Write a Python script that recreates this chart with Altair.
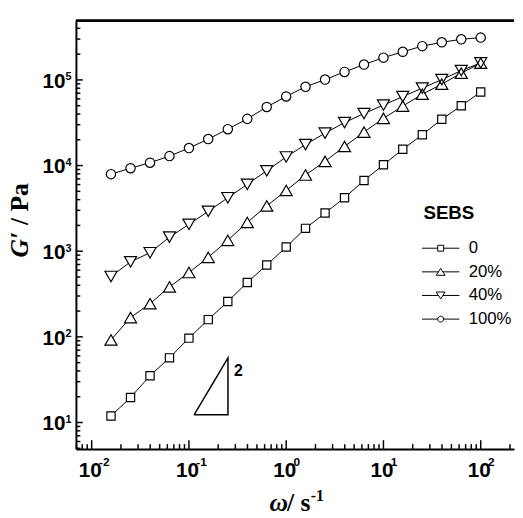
import altair as alt
import pandas as pd

# ---------------- data ----------------
omega = [0.0158, 0.0251, 0.0398, 0.0631, 0.1, 0.158, 0.251, 0.398, 0.631, 1.0,
         1.58, 2.51, 3.98, 6.31, 10.0, 15.8, 25.1, 39.8, 63.1, 100.0]
g_0 = [11.9, 19.6, 35.2, 56.9, 96.6, 159, 259, 432, 690, 1120,
       1850, 2790, 4210, 6690, 10200, 15500, 22900, 34700, 49900, 72200]
g_20 = [92, 168, 244, 383, 564, 848, 1340, 2170, 3380, 5120,
        7760, 11200, 16700, 24600, 35600, 49500, 68100, 89300, 120000, 157000]
g_40 = [507, 753, 960, 1460, 2060, 2920, 4210, 6050, 8690, 12600,
        17600, 23900, 31800, 40500, 50900, 63800, 80300, 100800, 128600, 158000]
g_100 = [7940, 9310, 10800, 12900, 16000, 20400, 26600, 35100, 48300, 64100,
         83100, 101000, 124000, 151000, 182000, 213000, 248000, 275000, 298000, 312000]
series_names = ["0", "20%", "40%", "100%"]
series_values = [g_0, g_20, g_40, g_100]
legend_title = ["SEBS"]

slope_x = [0.113, 0.252, 0.252, 0.113]
slope_y = [12.3, 12.3, 56.9, 12.3]
slope_text = ["2"]
slope_text_x = [0.29]
slope_text_y = [40]

x_domain = [0.00689, 220]
y_domain = [4.9, 490000]
x_major = [0.01, 0.1, 1, 10, 100]
y_major = [10, 100, 1000, 10000, 100000]
mults = [2, 3, 4, 5, 6, 7, 8, 9]
x_minor = [round(m * 10.0 ** e, 6) for e in range(-3, 3) for m in mults
           if x_domain[0] <= m * 10.0 ** e <= x_domain[1]]
y_minor = [round(m * 10.0 ** e, 6) for e in range(0, 6) for m in mults
           if y_domain[0] <= m * 10.0 ** e <= y_domain[1]]

rows = []
for name, vals in zip(series_names, series_values):
    for i, (w, g) in enumerate(zip(omega, vals)):
        rows.append({"series": name, "omega": w, "G": g, "i": i})
df = pd.DataFrame(rows)
slope_df = pd.DataFrame({"x": slope_x, "y": slope_y, "o": list(range(len(slope_x)))})
text_df = pd.DataFrame({"x": slope_text_x, "y": slope_text_y, "t": slope_text})
title_df = pd.DataFrame({"t": legend_title})
tick_df = pd.DataFrame(
    [{"xv": v, "kind": "xmaj"} for v in x_major] + [{"xv": v, "kind": "xmin"} for v in x_minor]
    + [{"yv": v, "kind": "ymaj"} for v in y_major] + [{"yv": v, "kind": "ymin"} for v in y_minor]
)

# ---------------- styling ----------------
W, H = 445, 435
NARROW = "Liberation Sans Narrow, Arial Narrow, Liberation Sans"
SANS = "Liberation Sans, Arial"
SERIF = "Liberation Serif, Times New Roman"
xs = alt.Scale(type="log", domain=x_domain, nice=False)
ys = alt.Scale(type="log", domain=y_domain, nice=False)
EXP = "'' + round(log(datum.value) / LN10)"

common = dict(grid=False, labelFlush=False, labelOverlap=False, labelColor="black",
              titleColor="black", tickColor="black", domainColor="black")

x_ax_main = alt.Axis(orient="bottom", values=x_major, labelExpr="'10'", labelFont=NARROW,
                     labelFontSize=21, labelFontWeight="bold", labelPadding=11, labelOffset=-2,
                     labelAlign="center", labelBaseline="top", ticks=False, tickSize=0,
                     domain=True, domainWidth=2,
                     title="ω", titleFont=SERIF, titleFontSize=26, titleFontWeight="bold",
                     titleFontStyle="italic", titleX=196, titleY=62, titleAlign="left",
                     titleBaseline="alphabetic", titleAngle=0, **common)
x_ax_exp = alt.Axis(orient="bottom", values=x_major, labelExpr=EXP, labelFont=NARROW,
                    labelFontSize=12, labelFontWeight="bold", labelPadding=8, labelOffset=7,
                    labelAlign="left", labelBaseline="top", ticks=False, tickSize=0,
                    domain=False,
                    title="/ s", titleFont=SERIF, titleFontSize=26, titleFontWeight="bold",
                    titleX=214, titleY=62, titleAlign="left", titleBaseline="alphabetic",
                    titleAngle=0, **common)
x_ax_sup = alt.Axis(orient="top", offset=-H, values=x_major, labels=False, domain=False,
                    ticks=False, tickSize=0,
                    title="-1", titleFont=SERIF, titleFontSize=16, titleFontWeight="bold",
                    titleX=238, titleY=52, titleAlign="left", titleBaseline="alphabetic",
                    titleAngle=0, **common)

y_ax_main = alt.Axis(orient="left", values=y_major, labelExpr="'10'", labelFont=NARROW,
                     labelFontSize=21, labelFontWeight="bold", labelPadding=11, labelOffset=1.5,
                     labelAlign="right", labelBaseline="middle", ticks=False, tickSize=0,
                     domain=True, domainWidth=2,
                     title="G′", titleFont=SERIF, titleFontSize=26, titleFontWeight="bold",
                     titleFontStyle="italic", titleX=-49, titleY=240, titleAlign="left",
                     titleBaseline="alphabetic", titleAngle=270, **common)
y_ax_exp = alt.Axis(orient="left", values=y_major, labelExpr=EXP, labelFont=NARROW,
                    labelFontSize=11, labelFontWeight="bold", labelPadding=5, labelOffset=-3,
                    labelAlign="right", labelBaseline="middle", ticks=False, tickSize=0,
                    domain=False,
                    title="/ Pa", titleFont=SERIF, titleFontSize=26, titleFontWeight="bold",
                    titleX=-49, titleY=207, titleAlign="left", titleBaseline="alphabetic",
                    titleAngle=270, **common)

marker_shape = {"0": "square", "20%": "triangle-up", "40%": "triangle-down", "100%": "circle"}
marker_size = {"0": 70, "20%": 150, "40%": 150, "100%": 90}
x_axes_pts = [x_ax_exp, x_ax_sup, None, None]
y_axes_pts = [y_ax_exp, None, None, None]

base = alt.Chart(df)

lines = base.mark_line(color="black", strokeWidth=1).encode(
    x=alt.X("omega:Q", scale=xs, axis=x_ax_main),
    y=alt.Y("G:Q", scale=ys, axis=y_ax_main),
    detail="series:N",
    order="i:Q",
)

fills = []
outlines = []
for k, name in enumerate(series_names):
    sub = base.transform_filter(alt.datum.series == name)
    fills.append(sub.mark_point(filled=True, fill="white", strokeOpacity=0, opacity=1,
                                shape=marker_shape[name], size=marker_size[name]).encode(
        x=alt.X("omega:Q", scale=xs, axis=x_axes_pts[k]),
        y=alt.Y("G:Q", scale=ys, axis=y_axes_pts[k]),
    ))
    outlines.append(sub.mark_point(filled=False, stroke="black", strokeWidth=1.2, opacity=1,
                                   shape=marker_shape[name], size=marker_size[name]).encode(
        x=alt.X("omega:Q", scale=xs, axis=None),
        y=alt.Y("G:Q", scale=ys, axis=None),
    ))

# inward ticks, drawn through the scales
tick_base = alt.Chart(tick_df)
def xticks(kind, length):
    return tick_base.transform_filter(alt.datum.kind == kind).mark_rule(
        color="black", strokeWidth=1.5).encode(
        x=alt.X("xv:Q", scale=xs, axis=None), y=alt.value(H), y2=alt.value(H - length))

def yticks(kind, length):
    return tick_base.transform_filter(alt.datum.kind == kind).mark_rule(
        color="black", strokeWidth=1.5).encode(
        y=alt.Y("yv:Q", scale=ys, axis=None), x=alt.value(0), x2=alt.value(length))

ticks = [xticks("xmaj", 9), xticks("xmin", 5), yticks("ymaj", 7), yticks("ymin", 4.5)]
top_frame = tick_base.transform_filter(alt.datum.kind == "xmaj").mark_rule(
    color="black", strokeWidth=2).encode(x=alt.value(0), x2=alt.value(W), y=alt.value(0))

slope = alt.Chart(slope_df).mark_line(color="black", strokeWidth=1.5).encode(
    x=alt.X("x:Q", scale=xs, axis=None),
    y=alt.Y("y:Q", scale=ys, axis=None),
    order="o:Q",
)
slope_lbl = alt.Chart(text_df).mark_text(font=SANS, fontSize=16, fontWeight="bold",
                                          align="left", baseline="middle", color="black").encode(
    x=alt.X("x:Q", scale=xs, axis=None),
    y=alt.Y("y:Q", scale=ys, axis=None),
    text="t:N",
)

legend_paths = [
    "M-3.8,0H-0.6M0.6,0H3.8M-0.6,-0.6H0.6V0.6H-0.6Z",
    "M-3.8,0H-0.45M0.45,0H3.8M0,-0.7L0.9,0.7L-0.9,0.7Z",
    "M-3.8,0H-0.45M0.45,0H3.8M0,0.7L0.9,-0.7L-0.9,-0.7Z",
    "M-3.8,0H-0.6M0.6,0H3.8M0.6,0A0.6,0.6,0,1,1,-0.6,0A0.6,0.6,0,1,1,0.6,0Z",
]
legend_layer = base.mark_point(
    filled=False, stroke="black", strokeWidth=1, size=100, opacity=0).encode(
    x=alt.X("omega:Q", scale=xs, axis=None),
    y=alt.Y("G:Q", scale=ys, axis=None),
    shape=alt.Shape("series:N", scale=alt.Scale(domain=series_names, range=legend_paths),
                    legend=alt.Legend(orient="none", legendX=353, legendY=184.5,
                                      title=legend_title[0], titleFont=SANS, titleFontSize=19,
                                      titleFontWeight="bold", titleColor="black",
                                      titleOpacity=0, titlePadding=19, titleAnchor="start",
                                      labelFont=SANS, labelFontSize=17, labelColor="black",
                                      labelOffset=20, symbolOffset=9, symbolSize=100,
                                      symbolStrokeWidth=1, symbolStrokeColor="black",
                                      symbolFillColor="transparent", symbolOpacity=1,
                                      rowPadding=6, padding=0)),
)
legend_head = alt.Chart(title_df).mark_text(
    font=SANS, fontSize=19, fontWeight="bold", align="left", baseline="alphabetic",
    color="black").encode(x=alt.value(353), y=alt.value(201), text="t:N")

chart = alt.layer(lines, *fills, *outlines, slope, slope_lbl, legend_layer, legend_head,
                  *ticks, top_frame).resolve_axis(
    x="independent", y="independent"
).properties(
    width=W, height=H,
    autosize=alt.AutoSizeParams(type="none"),
    padding={"left": 69, "top": 9, "right": 1, "bottom": 64},
    background="white",
).configure_view(stroke=None)

chart.save("out.html", embed_options={"renderer": "svg", "actions": False})
